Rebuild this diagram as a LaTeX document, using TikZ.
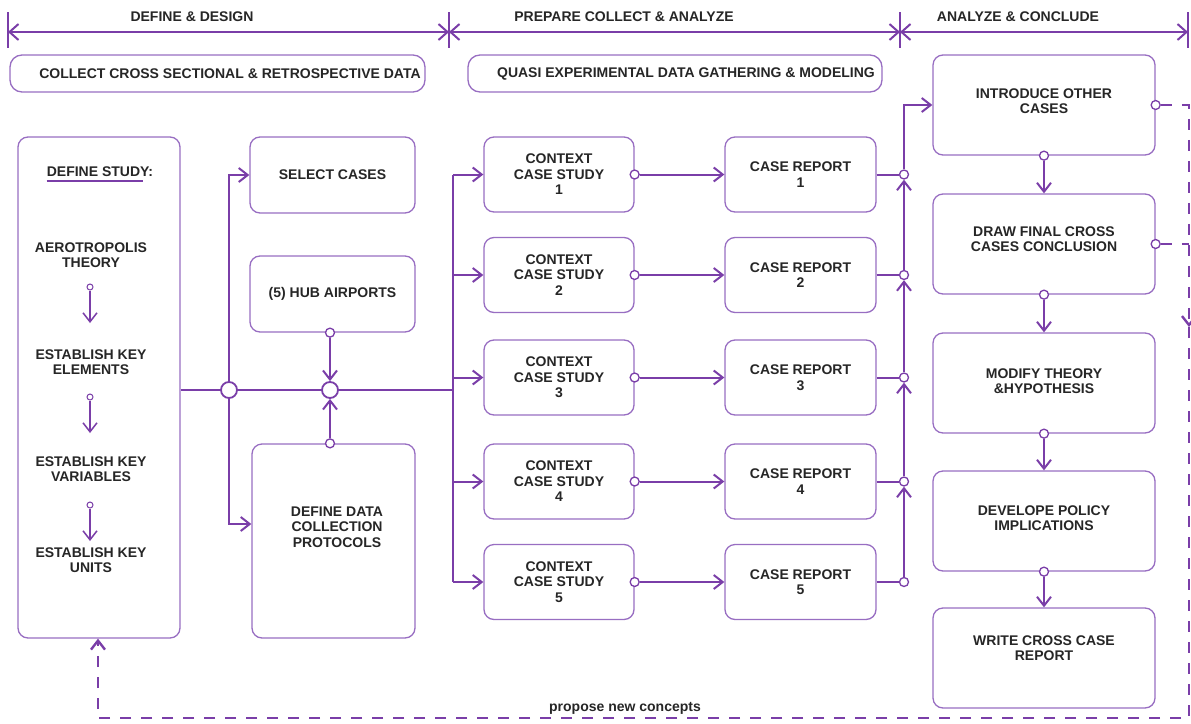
\documentclass[tikz,border=0pt]{standalone}
\usepackage{fontspec}
\setmainfont{Liberation Sans}
\usetikzlibrary{arrows.meta,calc}
\definecolor{flowcol}{RGB}{122,62,168}
\definecolor{boxcol}{RGB}{152,110,194}
\definecolor{txtcol}{RGB}{38,38,38}
\begin{document}
\begin{tikzpicture}[x=1pt,y=-1pt,
  font=\fontsize{14}{15.5}\selectfont\bfseries, text=txtcol,
  box/.style={draw=boxcol, line width=1.3pt, rounded corners=10pt, fill=white, align=center},
  lbl/.style={align=center, inner sep=0pt},
  flow/.style={draw=flowcol, line width=2pt},
  flowto/.style={flow, -{Straight Barb[length=9pt,width=14pt]}},
  port/.style={circle, draw=flowcol, fill=white, line width=1.3pt, inner sep=0pt, minimum size=9pt},
  junc/.style={port, minimum size=16pt, line width=1.8pt},
  dot/.style={port, minimum size=6pt, line width=1pt},
  back/.style={draw=flowcol, line width=2.4pt, dash pattern=on 11pt off 10pt}]
  \useasboundingbox (0,0) rectangle (1191,723);
  % phases
  \foreach \x/\n in {8/t0,449/t1,900/t2,1188/t3} { \coordinate (\n) at (\x,32); \draw[flow] (\x,12) -- (\x,48); }
  \foreach \a/\b in {t0/t1,t1/t2,t2/t3} \draw[flow, {Straight Barb[length=9pt,width=16pt]}-{Straight Barb[length=9pt,width=16pt]}] (\a) -- (\b);
  \node (ph1) at (192,17) {DEFINE \& DESIGN};
  \node (ph2) at (624,17) {PREPARE COLLECT \& ANALYZE};
  \node (ph3) at (1018,17) {ANALYZE \& CONCLUDE};
  \node[box, rounded corners=12pt, minimum width=415pt, minimum height=37pt] (ban1) at (217.5,73.5) {};
  \node[lbl] (ban1t) at (230,74) {COLLECT CROSS SECTIONAL \& RETROSPECTIVE DATA};
  \node[box, rounded corners=12pt, minimum width=414pt, minimum height=37pt] (ban2) at (675,73.5) {};
  \node[lbl] (ban2t) at (686,74) {QUASI EXPERIMENTAL DATA GATHERING \& MODELING};
  % define study
  \node[box, minimum width=162pt, minimum height=501pt] (ds) at (99,387.5) {};
  \node[lbl] (ds0) at (100,172) {DEFINE STUDY:};
  \draw[flow] ([yshift=-4pt]ds0.south west) -- ([yshift=-4pt,xshift=-10pt]ds0.south east);
  \foreach \n/\y/\t in {ds1/255/{AEROTROPOLIS\\THEORY}, ds2/362/{ESTABLISH KEY\\ELEMENTS},
      ds3/469/{ESTABLISH KEY\\VARIABLES}, ds4/560/{ESTABLISH KEY\\UNITS}}
    \node[lbl] (\n) at (91,\y) {\t};
  \foreach \i/\y in {1/287,2/397,3/505} {
    \node[dot] (dd\i) at (90,\y) {};
    \coordinate (de\i) at (90,\y+36);
    \draw[flowto, line width=1.5pt] (dd\i) -- (de\i);
  }
  % selection
  \node[junc] (j1) at (229,390) {};
  \node[junc] (j2) at (330,390) {};
  \node[box, minimum width=165pt, minimum height=76pt] (sel) at (332.5,175) {SELECT CASES};
  \node[box, minimum width=165pt, minimum height=76pt] (hub) at (332.5,294) {(5) HUB AIRPORTS};
  \node[box, minimum width=163pt, minimum height=194pt] (ddc) at (333.5,541) {};
  \node[lbl] (ddct) at (337,527) {DEFINE DATA\\COLLECTION\\PROTOCOLS};
  \node[port] (hubp) at (hub.south -| j2) {};
  \node[port] (ddcp) at (ddc.north -| j2) {};
  \coordinate (bus) at (453,390);
  \draw[flow] (ds.east |- j1) -- (j1);
  \draw[flow] (j1) -- (j2);
  \draw[flow] (j2) -- (bus);
  \draw[flowto] (j1) |- (sel.west);
  \draw[flowto] (j1) |- ([yshift=17pt]ddc.west);
  \draw[flowto] (hubp) -- (j2);
  \draw[flowto] (ddcp) -- (j2);
  % cases
  \foreach \i/\y in {1/174.5,2/275,3/377.5,4/481.5,5/582} {
    \node[box, minimum width=150pt, minimum height=75pt] (cs\i) at (559,\y) {CONTEXT\\CASE STUDY\\\i};
    \node[box, minimum width=151pt, minimum height=75pt] (cr\i) at (800.5,\y) {CASE REPORT\\\i};
    \node[port] (csp\i) at (cs\i.east) {};
    \node[port] (col\i) at (904,\y) {};
    \draw[flowto] (bus |- cs\i) -- (cs\i.west);
    \draw[flowto] (csp\i) -- (cr\i);
    \draw[flow] (cr\i) -- (col\i);
  }
  \draw[flow] (bus |- cs1) -- (bus |- cs5);
  \foreach \i/\j in {2/1,3/2,4/3,5/4} \draw[flowto] (col\i) -- (col\j);
  % conclusions
  \foreach \n/\y/\d/\t in {intro/105/8/{INTRODUCE OTHER\\CASES}, fin/244/10/{DRAW FINAL CROSS\\CASES CONCLUSION},
      mod/383/4/{MODIFY THEORY\\\&HYPOTHESIS}, pol/521/6/{DEVELOPE POLICY\\IMPLICATIONS}, rep/658/20/{WRITE CROSS CASE\\REPORT}}
    \node[box, minimum width=222pt, minimum height=100pt, text depth=\d pt] (\n) at (1044,\y) {\t};
  \draw[flowto] (col1) |- (intro.west);
  \foreach \a/\b in {intro/fin, fin/mod, mod/pol, pol/rep} {
    \node[port] (\a-p) at (\a.south) {};
    \draw[flowto] (\a-p) -- (\b);
  }
  % feedback
  \node[port] (introq) at (intro.east) {};
  \node[port] (finq) at (fin.east) {};
  \coordinate (fbm) at (1189,327);
  \coordinate (fbr) at (1189,718);
  \coordinate (fbl) at (98,718);
  \draw[back, -{Straight Barb[length=9pt,width=14pt]}] (introq) -| (fbm);
  \draw[back] (finq) -- (finq -| fbm);
  \draw[back, -{Straight Barb[length=9pt,width=14pt]}] (fbm) -- (fbr) -- (fbl) -- (ds.south -| fbl);
  \node (prop) at (625,708) {propose new concepts};
\end{tikzpicture}
\end{document}
